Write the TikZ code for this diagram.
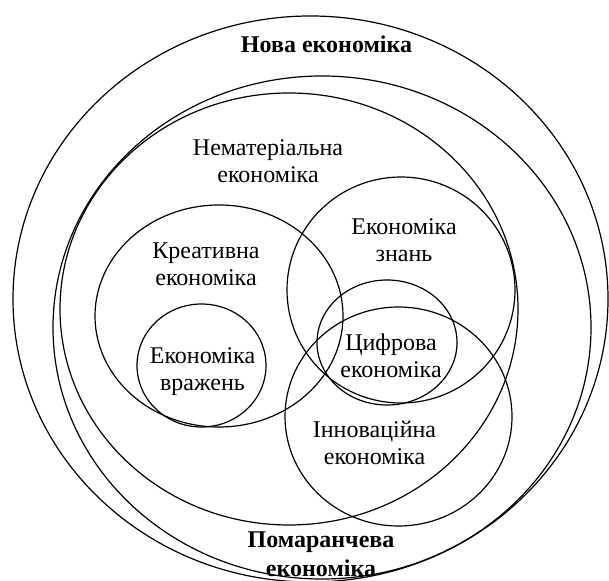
\documentclass[tikz,border=0pt]{standalone}
\usepackage{fontspec}
\setmainfont{Liberation Serif}
\usetikzlibrary{shapes.geometric}
\begin{document}
\begin{tikzpicture}[x=0.5pt,y=-0.5pt,
  ring/.style={ellipse,draw,line width=0.6pt,inner sep=0pt,outer sep=0pt},
  lbl/.style={align=center,font=\fontsize{12}{13.5}\selectfont,inner sep=0pt},
  blbl/.style={align=center,font=\fontsize{12}{14.5}\selectfont\bfseries,inner sep=0pt}]
\useasboundingbox (0,0) rectangle (609,581);
% ellipses (centre in px, size in pt = diameter in px / 2)
\node[ring,minimum width=297.5pt,minimum height=283pt] (nova) at (310.5,299) {};
\node[ring,minimum width=269pt,minimum height=251.5pt] (orange) at (322,327.5) {};
\node[ring,minimum width=229pt,minimum height=216pt] (intang) at (289,309) {};
\node[ring,minimum width=124pt,minimum height=111pt] (creat) at (219,316) {};
\node[ring,minimum width=64.5pt,minimum height=61.5pt] (exper) at (201.5,365.5) {};
\node[ring,minimum width=114pt,minimum height=113pt] (know) at (401,290) {};
\node[ring,minimum width=70pt,minimum height=62.5pt] (digit) at (387,342.5) {};
\node[ring,minimum width=113.5pt,minimum height=109.5pt] (innov) at (398.5,416.5) {};
% labels
\node[blbl,anchor=base] (tnova) at (326.5,53) {Нова економіка};
\node[lbl] (tintang) at (268,161) {Нематеріальна\\економіка};
\node[lbl] (tcreat) at (206,264) {Креативна\\економіка};
\node[lbl] (texper) at (202.5,372) {Економіка\\вражень};
\node[lbl] (tknow) at (404,240) {Економіка\\знань};
\node[lbl] (tdigit) at (391,356) {Цифрова\\економіка};
\node[lbl] (tinnov) at (374.5,443) {Інноваційна\\економіка};
\node[blbl] (torange) at (321,554) {Помаранчева\\економіка};
\end{tikzpicture}
\end{document}
